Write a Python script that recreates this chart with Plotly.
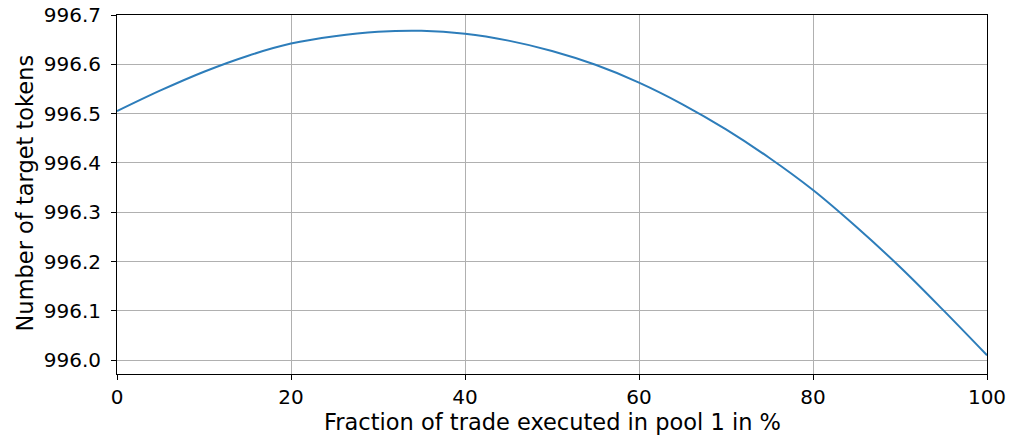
import plotly.graph_objects as go

fraction_pct = [0, 5, 10, 15, 20, 25, 30, 35, 40, 45, 50, 55, 60, 65, 70, 75, 80, 85, 90, 95, 100]
target_tokens = [996.505, 996.547, 996.585, 996.617, 996.642, 996.657, 996.666, 996.668, 996.662,
                 996.648, 996.627, 996.599, 996.563, 996.519, 996.468, 996.410, 996.345, 996.270,
                 996.189, 996.101, 996.010]
x_ticks = [0, 20, 40, 60, 80, 100]
y_ticks = [996.0, 996.1, 996.2, 996.3, 996.4, 996.5, 996.6, 996.7]
y_tick_labels = ["996.0", "996.1", "996.2", "996.3", "996.4", "996.5", "996.6", "996.7"]
x_title = "Fraction of trade executed in pool 1 in %"
y_title = "Number of target tokens"

fig = go.Figure(go.Scatter(x=fraction_pct, y=target_tokens, mode="lines",
                           line=dict(color="#2d7dba", width=2, shape="spline")))

tick_font = dict(family="DejaVu Sans", size=20, color="#000")
title_font = dict(family="DejaVu Sans", size=22.5, color="#000")
fig.update_layout(
    width=1011, height=437,
    margin=dict(l=117, r=24, t=15, b=62.5),
    paper_bgcolor="white", plot_bgcolor="white",
    showlegend=False, font=tick_font,
    annotations=[
        dict(text=x_title, xref="paper", yref="paper", x=0.5, y=-0.1327,
             xanchor="center", yanchor="middle", showarrow=False, font=title_font),
        dict(text=y_title, xref="paper", yref="paper", x=-0.1057, y=0.503,
             xanchor="center", yanchor="middle", showarrow=False, font=title_font,
             textangle=-90),
    ],
)
fig.update_xaxes(range=[0, 100], tickvals=x_ticks, showgrid=True, gridcolor="#b0b0b0", gridwidth=1,
                 showline=True, linecolor="#000", linewidth=1, mirror=True,
                 ticks="outside", ticklen=5, tickcolor="#000", zeroline=False, automargin=False,
                 ticklabeloverflow="allow", tickfont=tick_font)
fig.update_yaxes(range=[995.972, 996.7], tickvals=y_ticks, ticktext=y_tick_labels,
                 showgrid=True, gridcolor="#b0b0b0", gridwidth=1,
                 showline=True, linecolor="#000", linewidth=1, mirror=True,
                 ticks="outside", ticklen=5, tickcolor="#000", zeroline=False, automargin=False,
                 ticklabelstandoff=6, ticklabeloverflow="allow", tickfont=tick_font)
fig.write_html("out.html", config={"displayModeBar": False},
               post_script="document.body.style.margin='0';")
